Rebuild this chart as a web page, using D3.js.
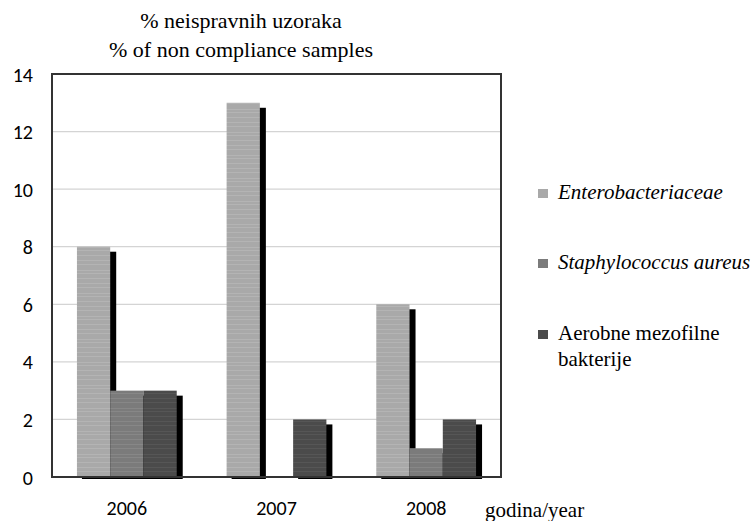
<!DOCTYPE html>
<html>
<head>
<meta charset="utf-8">
<script src="https://cdn.jsdelivr.net/npm/d3@7"></script>
<style>
  html, body { margin: 0; padding: 0; background: #fff; }
  svg { display: block; }
</style>
</head>
<body>
<svg id="chart" width="754" height="521"></svg>
<script>
// Years on the category axis
const years = ["2006", "2007", "2008"];
// Bacteria groups (legend order)
const seriesNames = ["Enterobacteriaceae", "Staphylococcus aureus", "Aerobne mezofilne bakterije"];
// % of non-compliant samples per group, one value per year
const enterobacteriaceae = [8, 13, 6];
const staphylococcus = [3, 0, 1];
const aerobne = [3, 2, 2];
// Y-axis ticks
const yTicks = [0, 2, 4, 6, 8, 10, 12, 14];

const seriesValues = [enterobacteriaceae, staphylococcus, aerobne];
const fills = ["#a9a9a9", "#7b7b7b", "#4b4b4b"];
const stripe = ["#b9b9b9", "#8c8c8c", "#5c5c5c"];
const italic = [true, true, false];

const sansFont = "Carlito";
const serifFont = "Liberation Serif";

const svg = d3.select("#chart");
const plot = { left: 52, right: 501, top: 74, bottom: 477 };

const y = d3.scaleLinear().domain([0, 14]).range([plot.bottom, plot.top]);
const x0 = d3.scaleBand().domain(years).range([plot.left, plot.right]).padding(0);
const x1 = d3.scaleBand().domain(d3.range(seriesNames.length))
  .range([0, x0.bandwidth()]).paddingInner(0).paddingOuter(0.75);

// Striped fills for the bars
const defs = svg.append("defs");
fills.forEach((c, i) => {
  const p = defs.append("pattern").attr("id", "pat" + i)
    .attr("patternUnits", "userSpaceOnUse").attr("width", 40).attr("height", 23);
  p.append("rect").attr("width", 40).attr("height", 23).attr("fill", c);
  [2, 7, 11, 17, 20].forEach(o => {
    p.append("rect").attr("x", 0).attr("y", o).attr("width", 40).attr("height", 1)
      .attr("fill", stripe[i]).attr("opacity", 0.7);
  });
});

// Gridlines
svg.append("g").selectAll("line")
  .data(yTicks.filter(t => t > 0 && t < 14))
  .join("line")
  .attr("x1", plot.left).attr("x2", plot.right)
  .attr("y1", d => y(d)).attr("y2", d => y(d))
  .attr("stroke", "#d4d4d4").attr("stroke-width", 1.2);

// Bars with a black drop shadow on the right
const groups = svg.append("g").selectAll("g")
  .data(years).join("g")
  .attr("transform", d => `translate(${x0(d)},0)`);

groups.each(function(year, yi) {
  const g = d3.select(this);
  seriesValues.forEach((vals, si) => {
    const v = vals[yi];
    if (v <= 0) return;
    const bx = x1(si), bw = x1.bandwidth();
    g.append("rect")
      .attr("x", bx + 5).attr("y", y(v) + 5)
      .attr("width", bw + 1).attr("height", plot.bottom + 2 - (y(v) + 5))
      .attr("fill", "#000");
    g.append("rect")
      .attr("x", bx).attr("y", y(v))
      .attr("width", bw).attr("height", plot.bottom - y(v))
      .attr("fill", `url(#pat${si})`);
  });
});

// Plot frame
svg.append("rect")
  .attr("x", plot.left).attr("y", plot.top)
  .attr("width", plot.right - plot.left).attr("height", plot.bottom - plot.top)
  .attr("fill", "none").attr("stroke", "#333").attr("stroke-width", 2);

// Y-axis labels
svg.append("g").selectAll("text")
  .data(yTicks).join("text")
  .attr("x", 33).attr("y", d => y(d) + 7.5)
  .attr("text-anchor", "end")
  .style("font-family", sansFont)
  .attr("font-size", 20).attr("fill", "#000")
  .text(d => d);

// X-axis labels
svg.append("g").selectAll("text")
  .data(years).join("text")
  .attr("x", d => x0(d) + x0.bandwidth() / 2)
  .attr("y", 515)
  .attr("text-anchor", "middle")
  .style("font-family", sansFont)
  .attr("font-size", 20).attr("fill", "#000")
  .text(d => d);

// Title
svg.append("text").attr("x", 241).attr("y", 28).attr("text-anchor", "middle")
  .style("font-family", serifFont).attr("font-size", 22).text("% neispravnih uzoraka");
svg.append("text").attr("x", 241).attr("y", 57).attr("text-anchor", "middle")
  .style("font-family", serifFont).attr("font-size", 22).text("% of non compliance samples");

// Axis title
svg.append("text").attr("x", 485).attr("y", 517)
  .style("font-family", serifFont).attr("font-size", 21).text("godina/year");

// Legend
const legendY = [199, 269, 340];
seriesNames.forEach((name, i) => {
  svg.append("rect").attr("x", 538).attr("y", legendY[i] - 10)
    .attr("width", 10).attr("height", 9).attr("fill", fills[i]);
  const t = svg.append("text").attr("x", 558).attr("y", legendY[i])
    .style("font-family", serifFont).attr("font-size", 21)
    .attr("font-style", italic[i] ? "italic" : "normal");
  if (i === 2) {
    t.append("tspan").attr("x", 558).text("Aerobne mezofilne");
    t.append("tspan").attr("x", 558).attr("dy", 26).text("bakterije");
  } else {
    t.text(name);
  }
});
</script>
</body>
</html>
